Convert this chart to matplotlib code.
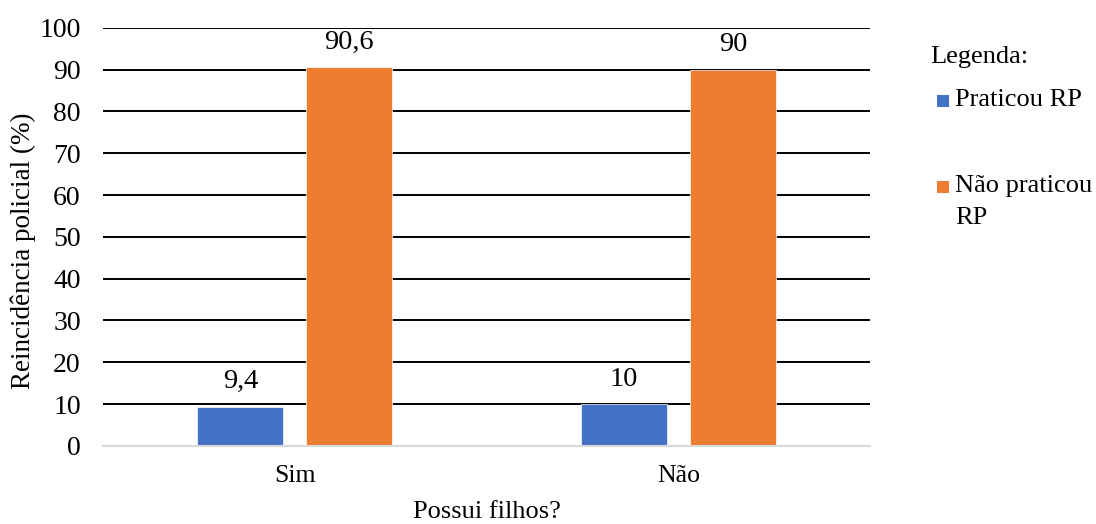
import numpy as np
import matplotlib
matplotlib.use('Agg')
import matplotlib.pyplot as plt
from matplotlib.patches import Rectangle

plt.rcParams['font.family'] = ['Liberation Serif', 'DejaVu Serif']

categorias = ['Sim', 'Não']
praticou = [9.4, 10]
nao_praticou = [90.6, 90]
rotulos_praticou = ['9,4', '10']
rotulos_nao = ['90,6', '90']

cor_azul = '#4472C4'
cor_laranja = '#ED7D31'
fs = 19

fig = plt.figure(figsize=(10.96, 5.24), dpi=100)
ax = fig.add_axes([0.094, 0.149, 0.7, 0.798])

x = np.arange(len(categorias))
w = 0.224
off = 0.142
b1 = ax.bar(x - off, praticou, w, color=cor_azul, edgecolor='white', linewidth=0.5, zorder=3)
b2 = ax.bar(x + off, nao_praticou, w, color=cor_laranja, edgecolor='white', linewidth=0.5, zorder=3)

for rect, txt in zip(b1, rotulos_praticou):
    ax.annotate(txt, (rect.get_x() + rect.get_width() / 2, rect.get_height()),
                xytext=(0, 9), textcoords='offset points', ha='center', va='bottom', fontsize=20.5)
for rect, txt in zip(b2, rotulos_nao):
    ax.annotate(txt, (rect.get_x() + rect.get_width() / 2, rect.get_height()),
                xytext=(0, 9), textcoords='offset points', ha='center', va='bottom', fontsize=20.5)

ax.set_xlim(-0.5, 1.5)
ax.set_ylim(0, 100)
ax.set_yticks(np.arange(0, 101, 10))
ax.set_xticks(x)
ax.set_xticklabels(categorias, fontsize=fs - 0.5)
ax.tick_params(axis='y', length=0, pad=16, labelsize=20)
ax.tick_params(axis='x', length=0, pad=14)
ax.yaxis.grid(True, color='black', linewidth=1.4, zorder=0)
ax.set_axisbelow(True)
for s in ['top', 'right', 'left']:
    ax.spines[s].set_visible(False)
ax.spines['bottom'].set_color('#d9d9d9')
ax.spines['bottom'].set_linewidth(1.5)
ax.spines['bottom'].set_zorder(4)

ax.set_ylabel('Reincidência policial (%)', fontsize=19.5)
ax.yaxis.set_label_coords(-0.087, 0.467)
ax.set_xlabel('Possui filhos?', fontsize=fs, labelpad=10)

# legenda feita à mão
W, H = fig.get_size_inches() * fig.dpi
def fx(px):
    return px / W
def fy(py):
    return 1 - py / H

fig.text(fx(930), fy(57), 'Legenda:', fontsize=fs, ha='left', va='center')
fig.patches.append(Rectangle((fx(937), fy(107)), 12 / W, 12 / H, transform=fig.transFigure,
                             facecolor=cor_azul, edgecolor='none', figure=fig))
fig.text(fx(955), fy(100), 'Praticou RP', fontsize=fs, ha='left', va='center')
fig.patches.append(Rectangle((fx(937), fy(193)), 12 / W, 12 / H, transform=fig.transFigure,
                             facecolor=cor_laranja, edgecolor='none', figure=fig))
fig.text(fx(955), fy(186), 'Não praticou', fontsize=fs, ha='left', va='center')
fig.text(fx(955), fy(218), 'RP', fontsize=fs, ha='left', va='center')

plt.savefig('out.png', dpi=100)
